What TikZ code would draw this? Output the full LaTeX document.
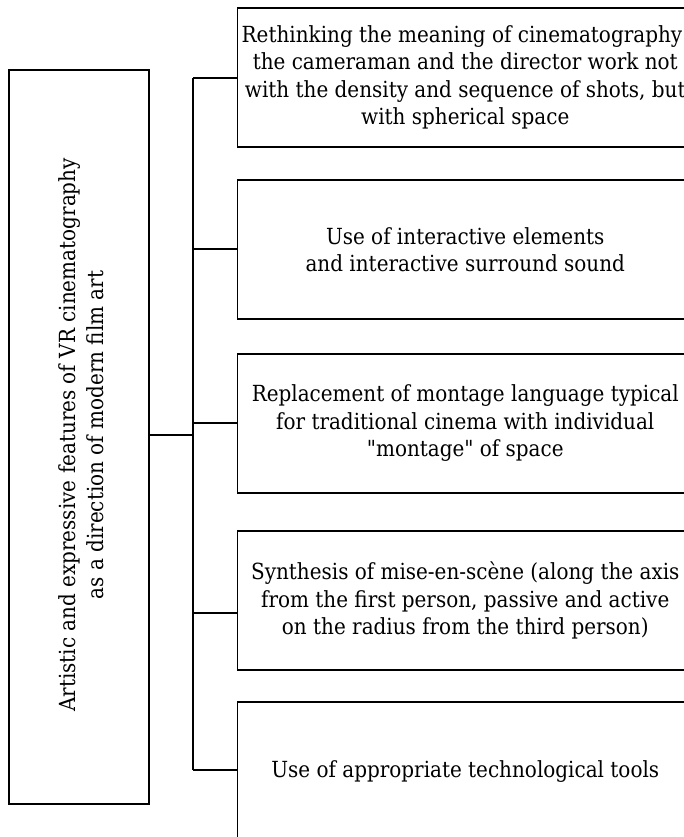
\documentclass[tikz,border=0pt]{standalone}
\usepackage{fontspec}
\setmainfont{DejaVu Serif Condensed}
\begin{document}
\begin{tikzpicture}[x=1pt,y=1pt,
  itembox/.style={draw, line width=1.8pt, minimum width=455.5pt, minimum height=139pt,
    inner sep=0pt, align=center, font=\fontsize{22.2}{27.5}\selectfont},
  mainbox/.style={draw, line width=1.8pt, minimum width=140pt, minimum height=734pt, inner sep=0pt},
  link/.style={line width=1.5pt}]
\clip (0,0) rectangle (684,-837);
\fill[white] (0,0) rectangle (684,-837);
\node[mainbox] (m) at (79,-437) {};
\node[rotate=90, align=center, font=\fontsize{22.2}{27.5}\selectfont] (mt) at (81,-435)
  {Artistic and expressive features of VR cinematography\\as a direction of modern film art};
\node[itembox] (b1) at (465.25,-77.5) {Rethinking the meaning of cinematography:\\the cameraman and the director work not\\with the density and sequence of shots, but\\with spherical space};
\node[itembox] (b2) at (465.25,-249.5) {Use of interactive elements\\and interactive surround sound};
\node[itembox] (b3) at (465.25,-423.5) {Replacement of montage language typical\\for traditional cinema with individual\\\textquotedbl montage\textquotedbl{} of space};
\node[itembox] (b4) at (465.25,-600.5) {Synthesis of mise-en-scène (along the axis\\from the first person, passive and active\\on the radius from the third person)};
\node[itembox] (b5) at (465.25,-771.5) {Use of appropriate technological tools};
\coordinate (t1) at (193,-78);
\coordinate (t2) at (193,-249);
\coordinate (t3) at (193,-423);
\coordinate (t4) at (193,-613);
\coordinate (t5) at (193,-770);
\coordinate (tm) at (193,-435);
\draw[link] (t1) -- (t5);
\draw[link] (m.east |- tm) -- (tm);
\draw[link] (t1) -- (t1 -| b1.west);
\draw[link] (t2) -- (t2 -| b2.west);
\draw[link] (t3) -- (t3 -| b3.west);
\draw[link] (t4) -- (t4 -| b4.west);
\draw[link] (t5) -- (t5 -| b5.west);
\end{tikzpicture}
\end{document}
